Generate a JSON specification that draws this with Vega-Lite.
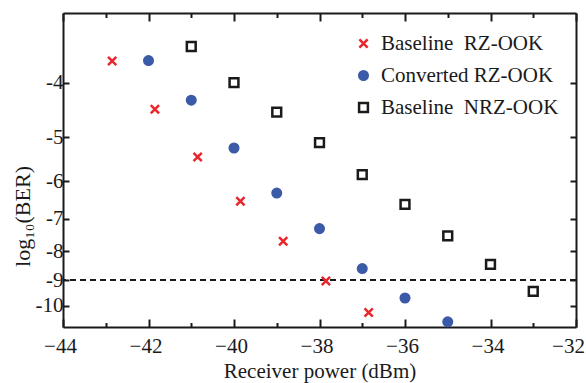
{
  "$schema": "https://vega.github.io/schema/vega-lite/v6.json",
  "width": 513,
  "height": 314,
  "autosize": "none",
  "padding": {"left": 63, "top": 13, "right": 10, "bottom": 56},
  "background": "white",
  "config": {
    "view": {"stroke": null},
    "font": "Liberation Serif",
    "axis": {
      "grid": false,
      "domainColor": "#1a1a1a",
      "domainWidth": 2,
      "tickColor": "#1a1a1a",
      "tickWidth": 2,
      "labelFont": "Liberation Serif",
      "labelFontSize": 21,
      "labelColor": "#1a1a1a",
      "labelFlush": false,
      "labelOverlap": false,
      "titleFont": "Liberation Serif",
      "titleFontSize": 21,
      "titleFontWeight": "normal",
      "titleColor": "#1a1a1a"
    },
    "legend": {
      "orient": "none",
      "legendX": 290,
      "legendY": 20,
      "padding": 0,
      "labelFont": "Liberation Serif",
      "labelFontSize": 21,
      "labelColor": "#1a1a1a",
      "labelOffset": 7,
      "labelLimit": 0,
      "rowPadding": 10,
      "symbolStrokeWidth": 2.5
    }
  },
  "data": {
    "values": [
      {"series": "Baseline\u00a0 RZ-OOK", "power": -42.85, "log10BER": -3.654},
      {"series": "Baseline\u00a0 RZ-OOK", "power": -41.85, "log10BER": -4.459},
      {"series": "Baseline\u00a0 RZ-OOK", "power": -40.85, "log10BER": -5.425},
      {"series": "Baseline\u00a0 RZ-OOK", "power": -39.85, "log10BER": -6.51},
      {"series": "Baseline\u00a0 RZ-OOK", "power": -38.85, "log10BER": -7.675},
      {"series": "Baseline\u00a0 RZ-OOK", "power": -37.85, "log10BER": -9.036},
      {"series": "Baseline\u00a0 RZ-OOK", "power": -36.85, "log10BER": -10.29},
      {"series": "Converted RZ-OOK", "power": -42, "log10BER": -3.648},
      {"series": "Converted RZ-OOK", "power": -41, "log10BER": -4.295},
      {"series": "Converted RZ-OOK", "power": -40, "log10BER": -5.228},
      {"series": "Converted RZ-OOK", "power": -39, "log10BER": -6.294},
      {"series": "Converted RZ-OOK", "power": -38, "log10BER": -7.285},
      {"series": "Converted RZ-OOK", "power": -37, "log10BER": -8.587},
      {"series": "Converted RZ-OOK", "power": -36, "log10BER": -9.692},
      {"series": "Converted RZ-OOK", "power": -35, "log10BER": -10.69},
      {"series": "Baseline\u00a0 NRZ-OOK", "power": -41, "log10BER": -3.443},
      {"series": "Baseline\u00a0 NRZ-OOK", "power": -40, "log10BER": -3.995},
      {"series": "Baseline\u00a0 NRZ-OOK", "power": -39, "log10BER": -4.511},
      {"series": "Baseline\u00a0 NRZ-OOK", "power": -38, "log10BER": -5.113},
      {"series": "Baseline\u00a0 NRZ-OOK", "power": -37, "log10BER": -5.833},
      {"series": "Baseline\u00a0 NRZ-OOK", "power": -36, "log10BER": -6.591},
      {"series": "Baseline\u00a0 NRZ-OOK", "power": -35, "log10BER": -7.507},
      {"series": "Baseline\u00a0 NRZ-OOK", "power": -34, "log10BER": -8.437},
      {"series": "Baseline\u00a0 NRZ-OOK", "power": -33, "log10BER": -9.428}
    ]
  },
  "layer": [
    {
      "mark": {"type": "rule", "strokeDash": [6, 4], "strokeWidth": 2, "color": "#1a1a1a"},
      "encoding": {
        "y": {"datum": -9, "type": "quantitative", "axis": null}
      }
    },
    {
      "mark": {"type": "point", "opacity": 0},
      "encoding": {
        "x": {
          "field": "power", "type": "quantitative",
          "scale": {"domain": [-44, -32], "nice": false, "zero": false},
          "axis": {
            "orient": "top", "labels": false, "title": null,
            "values": [-44, -43, -42, -41, -40, -39, -38, -37, -36, -35, -34, -33, -32],
            "tickSize": {"condition": {"test": "datum.value % 2 === 0", "value": -8}, "value": -4.5}
          }
        },
        "y": {
          "field": "log10BER", "type": "quantitative",
          "scale": {"type": "log", "domain": [-10.92, -3], "nice": false, "zero": false},
          "axis": {
            "orient": "right", "labels": false, "title": null,
            "values": [-4, -5, -6, -7, -8, -9, -10],
            "tickSize": -6
          }
        }
      }
    },
    {
      "mark": {"type": "point", "strokeWidth": 2.5, "opacity": 1},
      "encoding": {
        "x": {
          "field": "power", "type": "quantitative",
          "scale": {"domain": [-44, -32], "nice": false, "zero": false},
          "axis": {
            "orient": "bottom", "title": "Receiver power (dBm)",
            "values": [-44, -43, -42, -41, -40, -39, -38, -37, -36, -35, -34, -33, -32],
            "labelExpr": "datum.value % 2 === 0 ? datum.label : ''",
            "tickSize": {"condition": {"test": "datum.value % 2 === 0", "value": -8}, "value": -4.5},
            "labelOffset": {"condition": {"test": "datum.value === -32", "value": -8}, "value": -3},
            "labelPadding": 16,
            "titleY": 50,
            "titleBaseline": "alphabetic"
          }
        },
        "y": {
          "field": "log10BER", "type": "quantitative",
          "scale": {"type": "log", "domain": [-10.92, -3], "nice": false, "zero": false},
          "axis": {
            "orient": "left", "title": "log₁₀(BER)",
            "values": [-4, -5, -6, -7, -8, -9, -10],
            "labelExpr": "'-' + (-datum.value)",
            "tickSize": -6,
            "labelPadding": 6,
            "titleX": -34,
            "titleY": 203,
            "titleFontSize": 22,
            "titleAngle": -90,
            "titleBaseline": "alphabetic",
            "titleAlign": "center"
          }
        },
        "shape": {
          "field": "series", "type": "nominal",
          "scale": {
            "domain": ["Baseline\u00a0 RZ-OOK", "Converted RZ-OOK", "Baseline\u00a0 NRZ-OOK"],
            "range": ["M-1,-1L1,1M-1,1L1,-1", "circle", "square"]
          },
          "legend": {"title": null}
        },
        "stroke": {
          "field": "series", "type": "nominal",
          "scale": {
            "domain": ["Baseline\u00a0 RZ-OOK", "Converted RZ-OOK", "Baseline\u00a0 NRZ-OOK"],
            "range": ["#e8262c", "#3b5aa8", "#1a1a1a"]
          },
          "legend": {"title": null}
        },
        "fill": {
          "field": "series", "type": "nominal",
          "scale": {
            "domain": ["Baseline\u00a0 RZ-OOK", "Converted RZ-OOK", "Baseline\u00a0 NRZ-OOK"],
            "range": ["transparent", "#3b5aa8", "#ffffff"]
          },
          "legend": {"title": null}
        },
        "size": {
          "field": "series", "type": "nominal",
          "scale": {
            "domain": ["Baseline\u00a0 RZ-OOK", "Converted RZ-OOK", "Baseline\u00a0 NRZ-OOK"],
            "range": [68, 78, 40]
          },
          "legend": {"title": null}
        }
      }
    }
  ],
  "resolve": {"axis": {"x": "independent", "y": "independent"}}
}
